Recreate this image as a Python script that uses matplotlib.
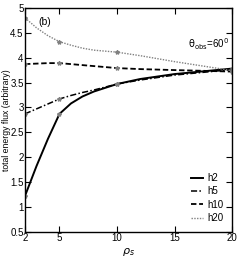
import matplotlib
matplotlib.use("Agg")
import matplotlib.pyplot as plt

plt.rcParams['font.family'] = ['Liberation Sans Narrow', 'Liberation Sans', 'DejaVu Sans']

# lecture approximative du graphe
rho = [2, 3, 4, 5, 6, 7, 8, 10, 12, 15, 20]
h2 = [1.22, 1.82, 2.37, 2.87, 3.08, 3.22, 3.32, 3.47, 3.57, 3.67, 3.78]
h5 = [2.87, 2.97, 3.07, 3.17, 3.24, 3.30, 3.35, 3.47, 3.55, 3.65, 3.76]
h10 = [3.87, 3.88, 3.89, 3.89, 3.87, 3.85, 3.83, 3.79, 3.77, 3.75, 3.72]
h20 = [4.80, 4.60, 4.44, 4.32, 4.25, 4.19, 4.15, 4.11, 4.04, 3.92, 3.74]
marked = [0, 3, 7, 10]

xticks = [2, 5, 10, 15, 20]
yticks = [0.5, 1, 1.5, 2, 2.5, 3, 3.5, 4, 4.5, 5]

fig = plt.figure(figsize=(2.4, 2.62), dpi=100)
ax = fig.add_axes([0.104, 0.115, 0.863, 0.855])

styles = [(h2, (None, None), 'black', 1.4, 'h2'),
          (h5, (4, 1.5, 1, 1.5), 'black', 1.1, 'h5'),
          (h10, (3, 1.5), 'black', 1.3, 'h10'),
          (h20, (1, 1), 'grey', 1.0, 'h20')]
for vals, dash, col, lw, lab in styles:
    line, = ax.plot(rho, vals, '-', color=col, lw=lw, label=lab)
    if dash[0] is not None:
        line.set_dashes(dash)
    ax.plot([rho[i] for i in marked], [vals[i] for i in marked], '*',
            ms=3, color='grey', ls='none')

ax.set_xlim(2, 20)
ax.set_ylim(0.5, 5)
ax.set_xticks(xticks)
ax.set_yticks(yticks)
ax.set_yticklabels(['0.5', '1', '1.5', '2', '2.5', '3', '3.5', '4', '4.5', '5'])
ax.tick_params(direction='in', top=True, right=True, length=4, width=0.8,
               labelsize=7, pad=1)
for s in ax.spines.values():
    s.set_linewidth(1.0)

ax.set_xlabel(r'$\rho_s$', fontsize=8, labelpad=2)
ax.set_ylabel('total energy flux (arbitrary)', fontsize=6.2)
ax.yaxis.set_label_coords(-0.068, 0.5)

ax.text(3.2, 4.72, '(b)', fontsize=7.5, va='center')
ax.text(16.2, 4.26, r'$\mathrm{\theta_{obs}}$=60$^0$', fontsize=7, va='center')

ax.legend(loc='lower right', fontsize=7, frameon=False, handlelength=1.3,
          handletextpad=0.4, labelspacing=0.35, borderaxespad=0.5)

fig.savefig('out.png', dpi=100)
